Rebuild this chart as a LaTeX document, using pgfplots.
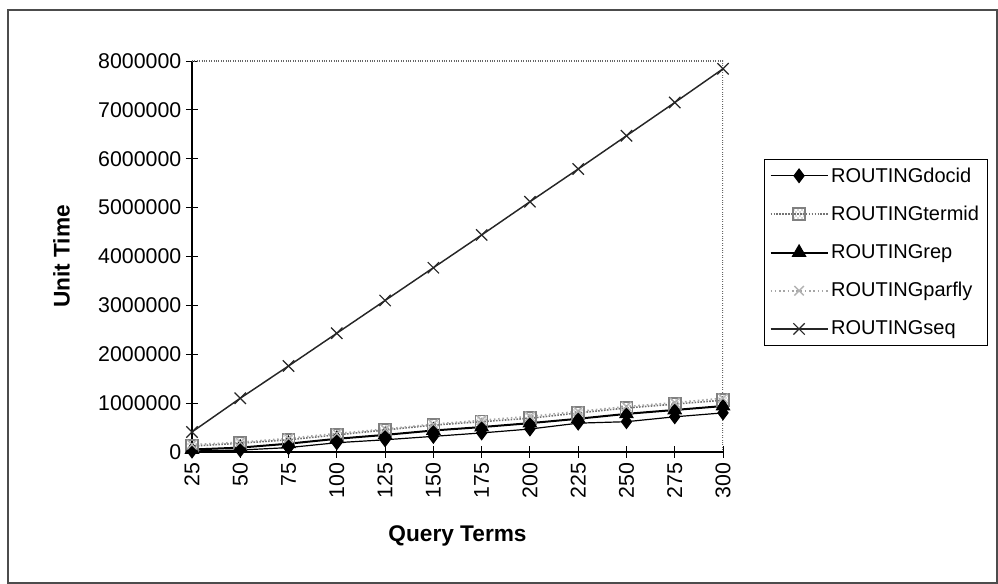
\documentclass[border=0pt]{standalone}
\usepackage{fontspec}
\setmainfont{Liberation Sans}
\usepackage{pgfplots}
\pgfplotsset{compat=1.18}
\usetikzlibrary{patterns}

\begin{document}
\begin{tikzpicture}
\useasboundingbox (-144pt,-99pt) rectangle (604.5pt,339pt);
% outer chart frame
\draw[line width=0.8pt, black!70] (-138pt,-98.25pt) rectangle (603.75pt,331.5pt);
\begin{axis}[
  scale only axis,
  width=398.25pt, height=293.25pt,
  xmin=25, xmax=300, ymin=0, ymax=8000000,
  xtick={25,50,...,300},
  ytick={0,1000000,...,8000000},
  scaled y ticks=false,
  /pgf/number format/assume math mode=true,
  /pgf/number format/1000 sep={},
  /pgf/number format/fixed,
  tick label style={font=\fontsize{16}{19}\selectfont},
  xticklabel style={rotate=90, anchor=east},
  tick align=center,
  major tick length=9pt,
  axis x line*=bottom, axis y line*=left,
  axis line style={-, line width=0.8pt},
  tick style={black, line width=0.7pt},
  xlabel={\textbf{Query Terms}},
  ylabel={\textbf{Unit Time}},
  label style={font=\fontsize{17}{20}\selectfont},
  xlabel style={yshift=-14pt},
  ylabel style={yshift=14.5pt},
  legend style={at={(1.077,0.749)}, anchor=north west, draw=black,
    line width=0.6pt, font=\fontsize{15}{18}\selectfont,
    row sep=12.5pt, inner sep=4pt, cells={anchor=west}},
  legend image code/.code={\draw[mark repeat=2,mark phase=2] plot coordinates {(0cm,0cm)(0.75cm,0cm)(1.5cm,0cm)};},
]
\draw[densely dotted, black!60, line width=0.8pt] (rel axis cs:0,1) -- (rel axis cs:1,1) -- (rel axis cs:1,0);

\addplot[black, line width=0.9pt, mark=diamond*, mark size=5pt, mark options={solid, fill=black}]
coordinates {(25,20000) (50,40000) (75,90000) (100,190000) (125,250000) (150,320000) (175,390000) (200,470000) (225,590000) (250,620000) (275,720000) (300,800000)};
\addlegendentry{ROUTINGdocid}

\addplot[black!55, densely dotted, line width=1.2pt, mark=square*, mark size=4.5pt,
  mark options={solid, draw=black!50, pattern=crosshatch dots, pattern color=black!60}]
coordinates {(25,120000) (50,180000) (75,250000) (100,350000) (125,450000) (150,550000) (175,620000) (200,690000) (225,800000) (250,900000) (275,980000) (300,1060000)};
\addlegendentry{ROUTINGtermid}

\addplot[black, line width=1.5pt, mark=triangle*, mark size=5pt, mark options={solid, fill=black}]
coordinates {(25,50000) (50,90000) (75,170000) (100,270000) (125,350000) (150,440000) (175,510000) (200,590000) (225,680000) (250,780000) (275,860000) (300,940000)};
\addlegendentry{ROUTINGrep}

\addplot[black!35, dotted, line width=1.2pt, mark=x, mark size=5pt, mark options={solid, black!30, line width=1pt}]
coordinates {(25,150000) (50,200000) (75,280000) (100,380000) (125,470000) (150,570000) (175,650000) (200,730000) (225,830000) (250,930000) (275,1010000) (300,1100000)};
\addlegendentry{ROUTINGparfly}

\addplot[black!85, line width=1.1pt, mark=x, mark size=6pt, mark options={solid, line width=0.9pt}]
coordinates {(25,410000) (50,1100000) (75,1760000) (100,2430000) (125,3100000) (150,3770000) (175,4440000) (200,5120000) (225,5790000) (250,6470000) (275,7150000) (300,7840000)};
\addlegendentry{ROUTINGseq}
\end{axis}
\end{tikzpicture}
\end{document}
